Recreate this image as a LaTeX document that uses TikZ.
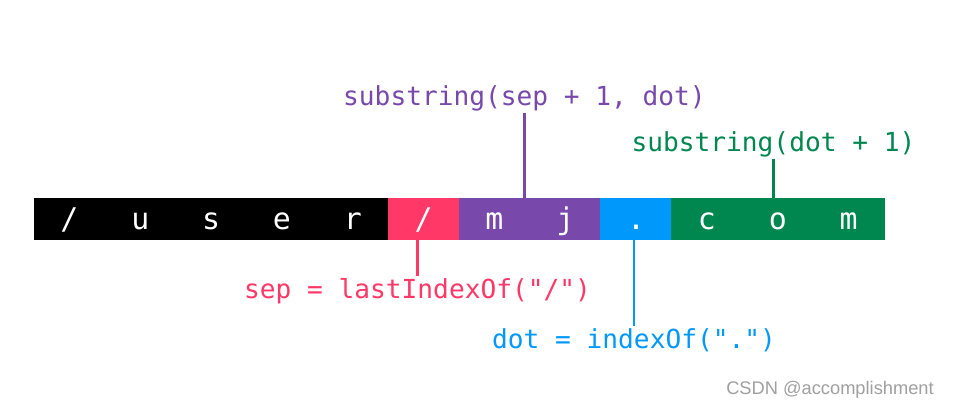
\documentclass[tikz,border=0pt]{standalone}
\usepackage{fontspec}
\setmainfont{Liberation Sans}
\setmonofont{DejaVu Sans Mono}
\usepackage{tikz}
\usetikzlibrary{positioning}
\definecolor{segblack}{HTML}{000000}
\definecolor{segred}{HTML}{FF3867}
\definecolor{segpurple}{HTML}{7849AA}
\definecolor{segblue}{HTML}{0098FA}
\definecolor{seggreen}{HTML}{00874F}
\definecolor{wmgray}{HTML}{A0A0A0}
\begin{document}
\begin{tikzpicture}[
  cell/.style={draw=#1,fill=#1,line width=0.3pt,minimum width=1.4167cm,minimum height=0.82cm,inner sep=0pt,text height=13pt,text depth=0pt,text=white,font=\ttfamily\fontsize{17}{20}\selectfont},
  lbl/.style={inner sep=1pt,font=\ttfamily\fontsize{14.9}{18}\selectfont},
  tie/.style={draw=#1,line width=1.7pt}]
\useasboundingbox[fill=white] (0,0) rectangle (19.1,8.2);
\node[cell=segblack] (c1) at (1.388,3.83) {/};
\node[cell=segblack] (c2) at (2.805,3.83) {u};
\node[cell=segblack] (c3) at (4.222,3.83) {s};
\node[cell=segblack] (c4) at (5.638,3.83) {e};
\node[cell=segblack] (c5) at (7.055,3.83) {r};
\node[cell=segred] (c6) at (8.472,3.83) {/};
\node[cell=segpurple] (c7) at (9.888,3.83) {m};
\node[cell=segpurple] (c8) at (11.305,3.83) {j};
\node[cell=segblue] (c9) at (12.722,3.83) {.};
\node[cell=seggreen] (c10) at (14.138,3.83) {c};
\node[cell=seggreen] (c11) at (15.555,3.83) {o};
\node[cell=seggreen] (c12) at (16.972,3.83) {m};
\node[lbl,text=segpurple] (subname) at (10.49,6.24) {substring(sep + 1, dot)};
\node[lbl,text=seggreen] (subext) at (15.47,5.32) {substring(dot + 1)};
\node[lbl,text=segred] (sepidx) at (8.35,2.38) {sep = lastIndexOf("/")};
\node[lbl,text=segblue] (dotidx) at (12.68,1.40) {dot = indexOf(".")};
\draw[tie=segpurple] (subname.south) -- (subname.south |- c7.north);
\draw[tie=seggreen] (subext.south) -- (subext.south |- c11.north);
\draw[tie=segred] (sepidx.north) -- (sepidx.north |- c6.south);
\draw[tie=segblue] (dotidx.north) -- (dotidx.north |- c9.south);
\node[text=wmgray,font=\fontsize{10.4}{12}\selectfont] (mark) at (16.60,0.40) {CSDN @accomplishment};
\end{tikzpicture}
\end{document}
